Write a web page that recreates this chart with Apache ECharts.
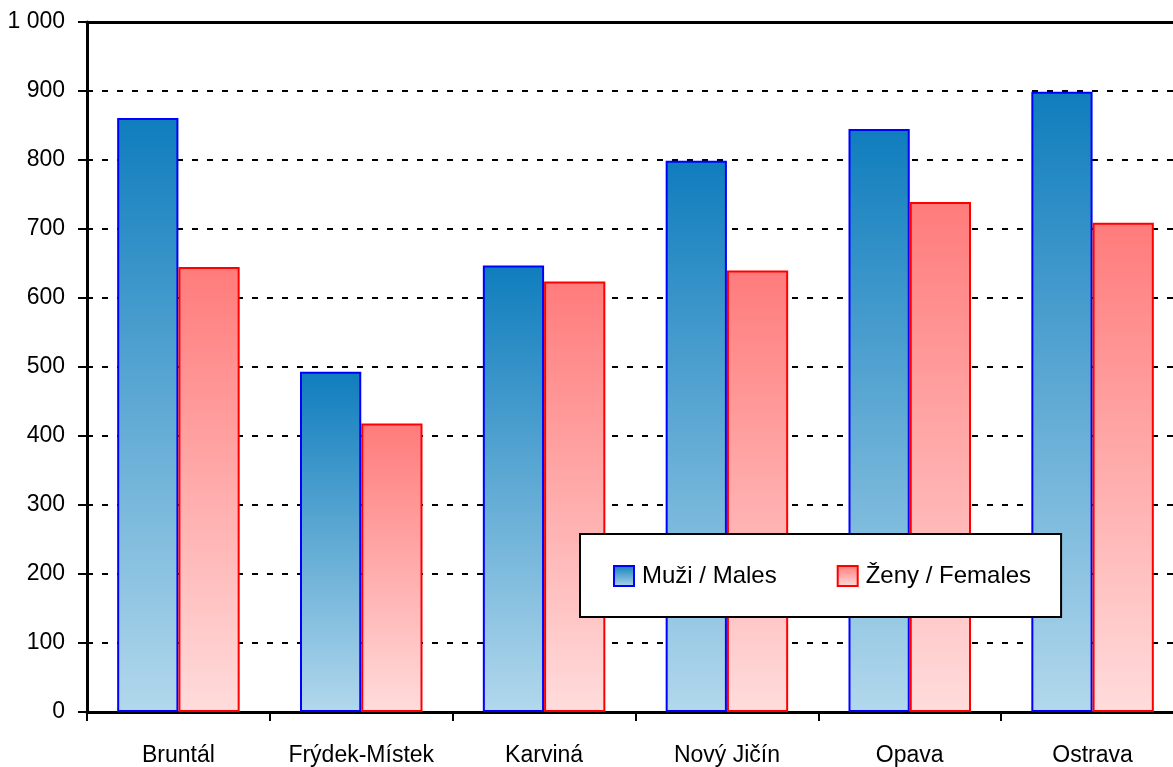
<!DOCTYPE html>
<html>
<head>
<meta charset="utf-8">
<script src="https://cdn.jsdelivr.net/npm/echarts@6/dist/echarts.min.js"></script>
<style>
html,body{margin:0;padding:0;background:#fff;overflow:hidden;}
#chart{width:1200px;height:767px;}
</style>
</head>
<body>
<div id="chart"></div>
<script>
const categories = ['Bruntál', 'Frýdek-Místek', 'Karviná', 'Nový Jičín', 'Opava', 'Ostrava'];
const males = [861, 493, 647, 799, 845, 899];
const females = [645, 418, 624, 640, 739, 709];
const seriesNames = ['Muži / Males', 'Ženy / Females'];

const FONT = '"Liberation Sans", Arial, sans-serif';
const chart = echarts.init(document.getElementById('chart'));

function grad(top, bottom) {
  return new echarts.graphic.LinearGradient(0, 0, 0, 1, [
    { offset: 0, color: top },
    { offset: 1, color: bottom }
  ]);
}

chart.setOption({
  animation: false,
  backgroundColor: '#ffffff',
  textStyle: { fontFamily: FONT },
  grid: { left: 87, top: 22, width: 1097, height: 691, containLabel: false },
  legend: {
    left: 580, top: 534,
    padding: [30, 30, 29, 33],
    icon: 'rect',
    itemWidth: 20, itemHeight: 20, itemGap: 60,
    backgroundColor: '#ffffff',
    borderColor: '#000000', borderWidth: 2,
    textStyle: { fontFamily: FONT, fontSize: 24, color: '#000', padding: [0, 0, 0, 3] },
    data: seriesNames
  },
  xAxis: [{
    type: 'category',
    data: categories,
    axisLine: { show: true, lineStyle: { color: '#000', width: 3 } },
    axisTick: { show: true, length: 9, lineStyle: { color: '#000', width: 2 } },
    axisLabel: { color: '#000', fontSize: 23, fontFamily: FONT, margin: 32, interval: 0 },
    splitLine: { show: false }
  }, {
    type: 'category',
    data: categories,
    position: 'top',
    axisLine: { show: true, onZero: false, lineStyle: { color: '#000', width: 3 } },
    axisTick: { show: false },
    axisLabel: { show: false },
    splitLine: { show: false }
  }],
  yAxis: {
    type: 'value',
    min: 0, max: 1000, interval: 100,
    axisLine: { show: true, lineStyle: { color: '#000', width: 3 } },
    axisTick: { show: true, length: 9, lineStyle: { color: '#000', width: 2 } },
    axisLabel: {
      color: '#000', fontSize: 23, fontFamily: FONT, margin: 22,
      formatter: v => String(v).replace(/\B(?=(\d{3})+(?!\d))/g, ' ')
    },
    splitLine: { show: true, lineStyle: { color: '#000', width: 2, type: [6, 9] } }
  },
  series: [{
    name: seriesNames[0],
    type: 'bar',
    data: males,
    barGap: '0%',
    barCategoryGap: '33%',
    itemStyle: { color: grad('#0f7dbd', '#b2d8ec'), borderColor: '#0000ff', borderWidth: 2 }
  }, {
    name: seriesNames[1],
    type: 'bar',
    data: females,
    barGap: '0%',
    barCategoryGap: '33%',
    itemStyle: { color: grad('#ff7b7b', '#ffdcdc'), borderColor: '#ff0000', borderWidth: 2 }
  }]
});
</script>
</body>
</html>
